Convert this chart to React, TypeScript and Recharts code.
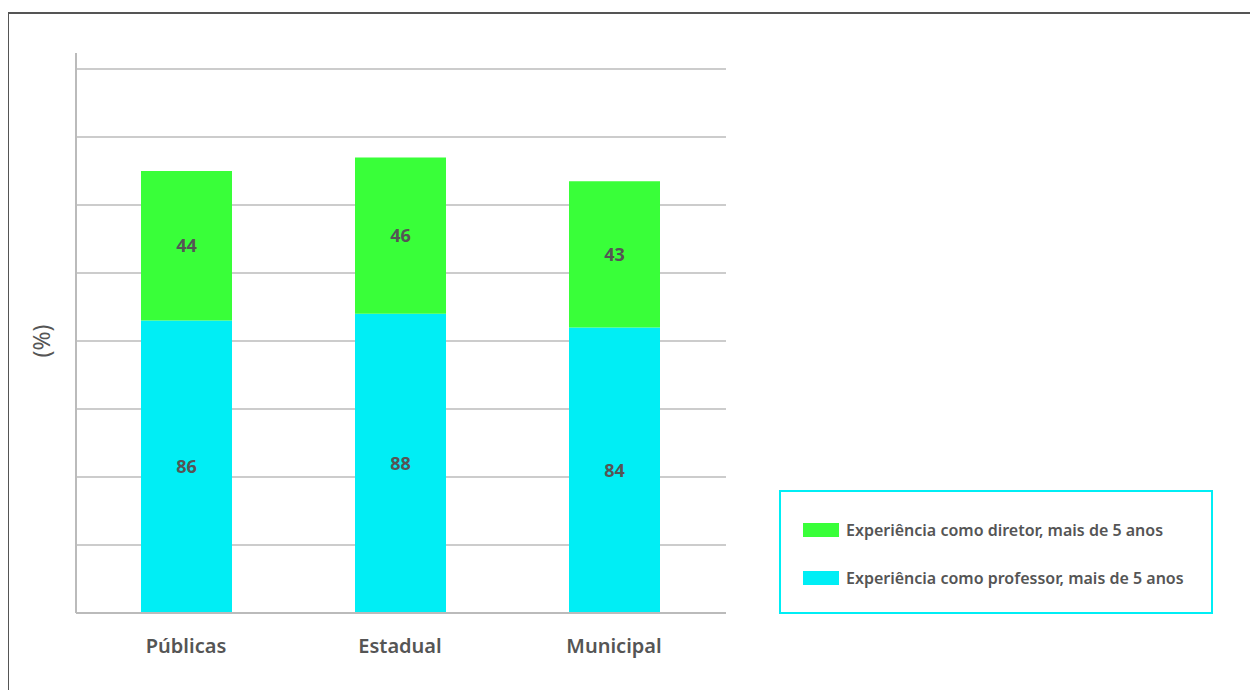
import React from 'react';
import { BarChart, Bar, XAxis, YAxis, CartesianGrid, Legend, LabelList } from 'recharts';

// Data
const categories = ['Públicas', 'Estadual', 'Municipal'];
const professor = [86, 88, 84];
const diretor = [44, 46, 43];
const yTicks = [0, 20, 40, 60, 80, 100, 120, 140, 160];

const data = categories.map((name, i) => ({
  name,
  professor: professor[i],
  diretor: diretor[i],
}));

const GREEN = '#39ff39';
const CYAN = '#00eef5';
const TEXT = '#555555';
const FONT = '"Noto Sans", sans-serif';

const legendItems = [
  { label: 'Experiência como diretor, mais de 5 anos', color: GREEN },
  { label: 'Experiência como professor, mais de 5 anos', color: CYAN },
];

const LegendBox = () => (
  <div
    style={{
      position: 'absolute',
      left: 779,
      top: 490,
      width: 434,
      height: 124,
      border: `2px solid ${CYAN}`,
      boxSizing: 'border-box',
      fontFamily: FONT,
    }}
  >
    {legendItems.map((item, i) => (
      <div
        key={item.label}
        style={{
          position: 'absolute',
          left: 22,
          top: 27 + i * 48,
          display: 'flex',
          alignItems: 'center',
          whiteSpace: 'nowrap',
        }}
      >
        <span style={{ width: 36, height: 14, background: item.color, display: 'inline-block', marginRight: 7 }} />
        <span style={{ fontSize: 16, fontWeight: 600, color: TEXT }}>{item.label}</span>
      </div>
    ))}
  </div>
);

// rotated "(%)" axis title
const YTitle = () => (
  <text
    x={41}
    y={341}
    transform="rotate(-90 41 341)"
    textAnchor="middle"
    dominantBaseline="central"
    fill={TEXT}
    fontSize={23}
    fontFamily={FONT}
  >
    (%)
  </text>
);

export default function App() {
  return (
    <div style={{ position: 'relative', margin: -8, width: 1258, height: 698, background: '#fff', overflow: 'hidden' }}>
      <div
        style={{
          position: 'absolute',
          left: 7,
          top: 12,
          right: 0,
          bottom: 0,
          borderLeft: '2px solid #555',
          borderTop: '2px solid #555',
        }}
      />
      <div style={{ position: 'absolute', left: 0, top: 0 }}>
        <BarChart
          width={1258}
          height={698}
          data={data}
          margin={{ top: 53, right: 532, bottom: 0, left: 0 }}
          barSize={91}
        >
          <CartesianGrid vertical={false} horizontalValues={yTicks} stroke="#cccccc" strokeWidth={2} />
          <XAxis
            dataKey="name"
            height={85}
            axisLine={{ stroke: '#bbbbbb', strokeWidth: 2 }}
            tickLine={false}
            padding={{ left: 3, right: 5 }}
            tick={{ fill: TEXT, fontSize: 20, fontWeight: 600, fontFamily: FONT }}
            tickMargin={20}
          />
          <YAxis
            width={76}
            domain={[0, 164.7]}
            ticks={yTicks}
            tick={() => <g />}
            tickLine={false}
            axisLine={{ stroke: '#bbbbbb', strokeWidth: 2 }}
            label={{ content: () => <YTitle /> }}
          />
          <Legend content={() => null} />
          <Bar dataKey="professor" stackId="a" fill={CYAN} isAnimationActive={false}>
            <LabelList dataKey="professor" position="center" fill={TEXT} fontSize={18} fontWeight={700} fontFamily={FONT} />
          </Bar>
          <Bar dataKey="diretor" stackId="a" fill={GREEN} isAnimationActive={false}>
            <LabelList dataKey="diretor" position="center" fill={TEXT} fontSize={18} fontWeight={700} fontFamily={FONT} />
          </Bar>
        </BarChart>
      </div>
      <LegendBox />
    </div>
  );
}
